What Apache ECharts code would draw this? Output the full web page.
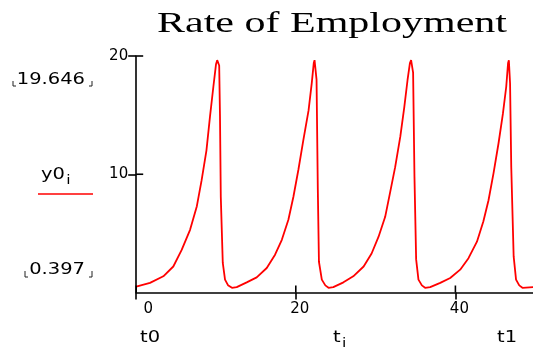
<!DOCTYPE html>
<html>
<head>
<meta charset="utf-8">
<script src="https://cdn.jsdelivr.net/npm/echarts@6.0.0/dist/echarts.min.js"></script>
<style>
  html, body { margin: 0; padding: 0; background: #fff; }
  #chart { width: 533px; height: 349px; }
</style>
</head>
<body>
<div id="chart"></div>
<script>
// Simulated employment rate y0 over time t (four boom/bust cycles)
const timeSteps = [
  0, 1.73, 3.4, 4.65, 5.7, 6.75, 7.6, 8.2, 8.8, 9.25, 9.67, 10.0, 10.15, 10.4, 10.5, 10.6, 10.85, 11.13, 11.5, 12.0,
  12.6, 13.85, 15.1, 16.36, 17.4, 18.25, 19.07, 19.7, 20.33, 20.95, 21.6, 22.0, 22.25, 22.35, 22.6, 22.76, 22.9, 23.26, 23.7, 24.1,
  24.7, 25.97, 27.2, 28.5, 29.5, 30.36, 31.2, 31.8, 32.45, 33.1, 33.6, 34.0, 34.3, 34.45, 34.7, 34.87, 35.08, 35.37, 35.8, 36.2,
  36.84, 38.1, 39.35, 40.6, 41.64, 42.7, 43.5, 44.15, 44.78, 45.4, 45.95, 46.37, 46.6, 46.7, 46.85, 47.0, 47.3, 47.6, 48.0, 48.4,
  49.75, 50
];
const employment = [
  0.5, 0.81, 1.37, 2.2, 3.6, 5.3, 7.3, 9.5, 12.0, 14.9, 17.4, 19.3, 19.646, 19.2, 14.9, 8.1, 2.5, 1.09, 0.62, 0.397,
  0.45, 0.86, 1.28, 2.07, 3.2, 4.46, 6.15, 8.1, 10.4, 12.9, 15.4, 17.7, 19.4, 19.646, 18.0, 8.7, 2.6, 1.09, 0.6, 0.397,
  0.45, 0.86, 1.37, 2.2, 3.3, 4.7, 6.4, 8.4, 10.6, 13.2, 15.7, 17.95, 19.4, 19.646, 18.6, 9.8, 2.8, 1.09, 0.6, 0.397,
  0.45, 0.81, 1.23, 1.93, 2.9, 4.3, 6.0, 7.8, 10.1, 12.6, 15.1, 17.4, 19.4, 19.646, 17.7, 10.6, 3.05, 1.09, 0.6, 0.397,
  0.45, 0.47
];

// Axis ranges and tick steps
const tRange = [0, 50];
const tStep = 20;
const yRange = [0, 20];
const yStep = 10;
const tTickValues = [0, 20, 40];
const yTickValues = [10, 20];

// Text around the plot
const chartTitle = 'Rate of Employment';
const seriesName = 'y0';
const seriesIndexName = 'i';
const startLabel = 't0';
const endLabel = 't1';
const varName = 't';

const points = timeSteps.map((t, k) => [t, employment[k]]);
const maxLabel = Math.max(...employment).toFixed(3);
const minLabel = Math.min(...employment).toFixed(3);

const AXIS_COLOR = '#000';
const LINE_RED = '#ff0000';
const FONT = '"DejaVu Sans", sans-serif';
const WIDE = 1.3;
const INNER_TICK = 7;

function bracketPair(xl, xr, yTop, yBot) {
  return [
    { type: 'polyline', shape: { points: [[xl, yTop], [xl, yBot], [xl + 3, yBot]] },
      style: { stroke: '#222', lineWidth: 1, fill: null } },
    { type: 'polyline', shape: { points: [[xr, yTop], [xr, yBot], [xr - 3, yBot]] },
      style: { stroke: '#222', lineWidth: 1, fill: null } }
  ];
}

const subRich = {
  m: { fontSize: 15, fontFamily: FONT, lineHeight: 16, verticalAlign: 'top', fill: '#000' },
  s: { fontSize: 12, fontFamily: FONT, lineHeight: 12, padding: [7, 0, 0, 1], verticalAlign: 'top', fill: '#000' }
};

// inward half of each tick mark, so ticks cross the axis lines
const tickPairs = tTickValues.map(v => [v, yRange[0], 'x'])
  .concat(yTickValues.map(v => [tRange[0], v, 'y']));

function renderInnerTick(params, api) {
  const p = api.coord([api.value(0), api.value(1)]);
  const isX = tickPairs[params.dataIndex][2] === 'x';
  return {
    type: 'line',
    shape: isX
      ? { x1: p[0], y1: p[1], x2: p[0], y2: p[1] - INNER_TICK }
      : { x1: p[0], y1: p[1], x2: p[0] + INNER_TICK, y2: p[1] },
    style: { stroke: AXIS_COLOR, lineWidth: 1.6 }
  };
}

const chart = echarts.init(document.getElementById('chart'), null, { renderer: 'canvas' });
chart.setOption({
  animation: false,
  backgroundColor: '#fff',
  grid: {
    left: 136.2, top: 56, width: 399, height: 236.5,
    containLabel: false, outerBoundsMode: 'none'
  },
  xAxis: {
    type: 'value', min: tRange[0], max: tRange[1], interval: tStep, position: 'bottom',
    axisLine: { show: true, onZero: false, lineStyle: { color: AXIS_COLOR, width: 1.6 } },
    axisTick: { show: true, length: 7, lineStyle: { color: AXIS_COLOR, width: 1.6 } },
    axisLabel: {
      show: true, margin: 9, showMaxLabel: false, color: '#000',
      fontFamily: FONT, fontSize: 15,
      formatter: v => (v === 0 ? '{z|' + v + '}' : '{n|' + v + '}'),
      rich: {
        z: { fontFamily: FONT, fontSize: 15, color: '#000', padding: [0, 0, 0, 24] },
        n: { fontFamily: FONT, fontSize: 15, color: '#000', padding: [0, 0, 0, 8] }
      }
    },
    splitLine: { show: false }
  },
  yAxis: {
    type: 'value', min: yRange[0], max: yRange[1], interval: yStep, position: 'left',
    axisLine: { show: true, onZero: false, lineStyle: { color: AXIS_COLOR, width: 1.6 } },
    axisTick: { show: true, length: 8, lineStyle: { color: AXIS_COLOR, width: 1.6 } },
    axisLabel: {
      show: true, margin: 8, showMinLabel: false, color: '#000',
      fontFamily: FONT, fontSize: 15
    },
    splitLine: { show: false }
  },
  series: [
    {
      name: seriesName + seriesIndexName,
      type: 'line',
      data: points,
      showSymbol: false,
      symbol: 'none',
      smooth: false,
      clip: false,
      lineStyle: { color: LINE_RED, width: 1.8 },
      z: 3
    },
    {
      name: 'inner ticks',
      type: 'custom',
      data: tickPairs.map(d => [d[0], d[1]]),
      renderItem: renderInnerTick,
      silent: true,
      clip: false,
      z: 4
    }
  ],
  graphic: [
    { type: 'text', x: 332, y: 24, scaleX: 1.4,
      style: { text: chartTitle, font: '30px "Liberation Serif", serif', fill: '#000',
               align: 'center', verticalAlign: 'middle' } },
    // range readouts on the left
    { type: 'text', x: 85, y: 80, scaleX: WIDE,
      style: { text: maxLabel, fontFamily: FONT, fontSize: 15, fill: '#000', align: 'right', verticalAlign: 'middle' } },
    ...bracketPair(13, 92, 81, 86),
    { type: 'text', x: 85, y: 270, scaleX: WIDE,
      style: { text: minLabel, fontFamily: FONT, fontSize: 15, fill: '#000', align: 'right', verticalAlign: 'middle' } },
    ...bracketPair(25, 92, 271, 277),
    // series name with its legend stroke
    { type: 'text', x: 41, y: 168, scaleX: WIDE,
      style: { text: '{m|' + seriesName + '}{s|' + seriesIndexName + '}', rich: subRich, align: 'left', verticalAlign: 'top' } },
    { type: 'line', shape: { x1: 38, y1: 194, x2: 93, y2: 194 }, style: { stroke: LINE_RED, lineWidth: 1.5 } },
    // axis variable names below the ticks
    { type: 'text', x: 140, y: 331, scaleX: WIDE,
      style: { text: '{m|' + startLabel + '}', rich: subRich, align: 'left', verticalAlign: 'top' } },
    { type: 'text', x: 333, y: 331, scaleX: WIDE,
      style: { text: '{m|' + varName + '}{s|' + seriesIndexName + '}', rich: subRich, align: 'left', verticalAlign: 'top' } },
    { type: 'text', x: 497, y: 331, scaleX: WIDE,
      style: { text: '{m|' + endLabel + '}', rich: subRich, align: 'left', verticalAlign: 'top' } }
  ]
});
</script>
</body>
</html>
